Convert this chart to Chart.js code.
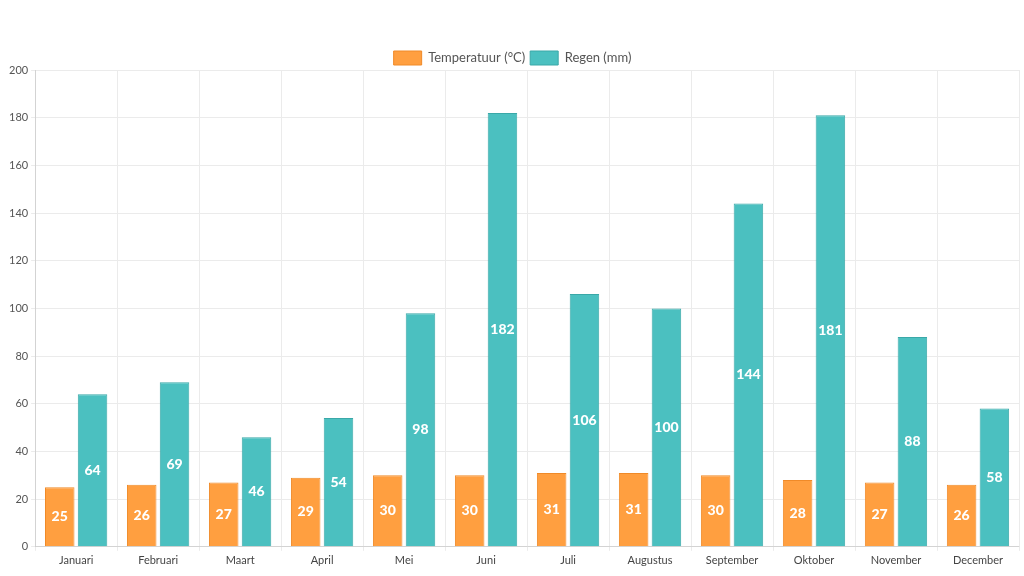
<!DOCTYPE html>
<html>
<head>
<meta charset="utf-8">
<script src="https://cdn.jsdelivr.net/npm/chart.js@4/dist/chart.umd.min.js"></script>
<style>
  html, body { margin: 0; padding: 0; background: #fff; }
  #wrap { width: 1024px; height: 576px; }
</style>
</head>
<body>
<div id="wrap"><canvas id="grafiek"></canvas></div>
<script>
const maanden = ["Januari","Februari","Maart","April","Mei","Juni","Juli","Augustus","September","Oktober","November","December"];
const temperatuur = [25,26,27,29,30,30,31,31,30,28,27,26];
const regen = [64,69,46,54,98,182,106,100,144,181,88,58];

// labels in het midden van elke staaf
const waardeLabels = {
    id: "waardeLabels",
    afterDatasetsDraw(chart){
        const ctx = chart.ctx;
        ctx.save();
        ctx.font = "900 14px Lato";
        ctx.fillStyle = "#fff";
        ctx.textAlign = "center";
        ctx.textBaseline = "middle";
        chart.data.datasets.forEach((ds,i)=>{
            chart.getDatasetMeta(i).data.forEach((bar,j)=>{
                const y = (bar.y + bar.base)/2;
                ctx.fillText(ds.data[j], bar.x, y);
            });
        });
        ctx.restore();
    }
};

// legenda iets minder ruimte onder
const legendaKrap = {
    id: "legendaKrap",
    beforeLayout(chart){
        const lg = chart.legend;
        if(lg && !lg._krap){
            const orig = lg.fit;
            lg.fit = function(){ orig.call(this); this.height -= 5; };
            lg._krap = true;
        }
    }
};

Chart.defaults.font.family = "Lato";
Chart.defaults.color = "#666";

new Chart(document.getElementById("grafiek"), {
    type: "bar",
    data: {
        labels: maanden,
        datasets: [
            {label: "Temperatuur (°C)", data: temperatuur, backgroundColor: "#ff9f40", borderColor: "#f08a28", borderWidth: 1},
            {label: "Regen (mm)", data: regen, backgroundColor: "#4bc0c0", borderColor: "#3aa8a8", borderWidth: 1}
        ]
    },
    options: {
        responsive: true,
        maintainAspectRatio: false,
        animation: false,
        layout: {padding: {top: 46, right: 5, left: 6, bottom: 6}},
        plugins: {
            legend: {
                labels: {font: {size: 13}, color: "#555", boxWidth: 28, boxHeight: 14, padding: 5}
            },
            tooltip: {enabled: false}
        },
        scales: {
            x: {
                grid: {color: "#ebebeb", tickLength: 4},
                ticks: {font: {size: 11}, color: "#444"}
            },
            y: {
                min: 0, max: 200,
                ticks: {stepSize: 20, font: {size: 11}, color: "#555"},
                grid: {color: "#ebebeb", tickLength: 4}
            }
        }
    },
    plugins: [legendaKrap, waardeLabels]
});
</script>
</body>
</html>
